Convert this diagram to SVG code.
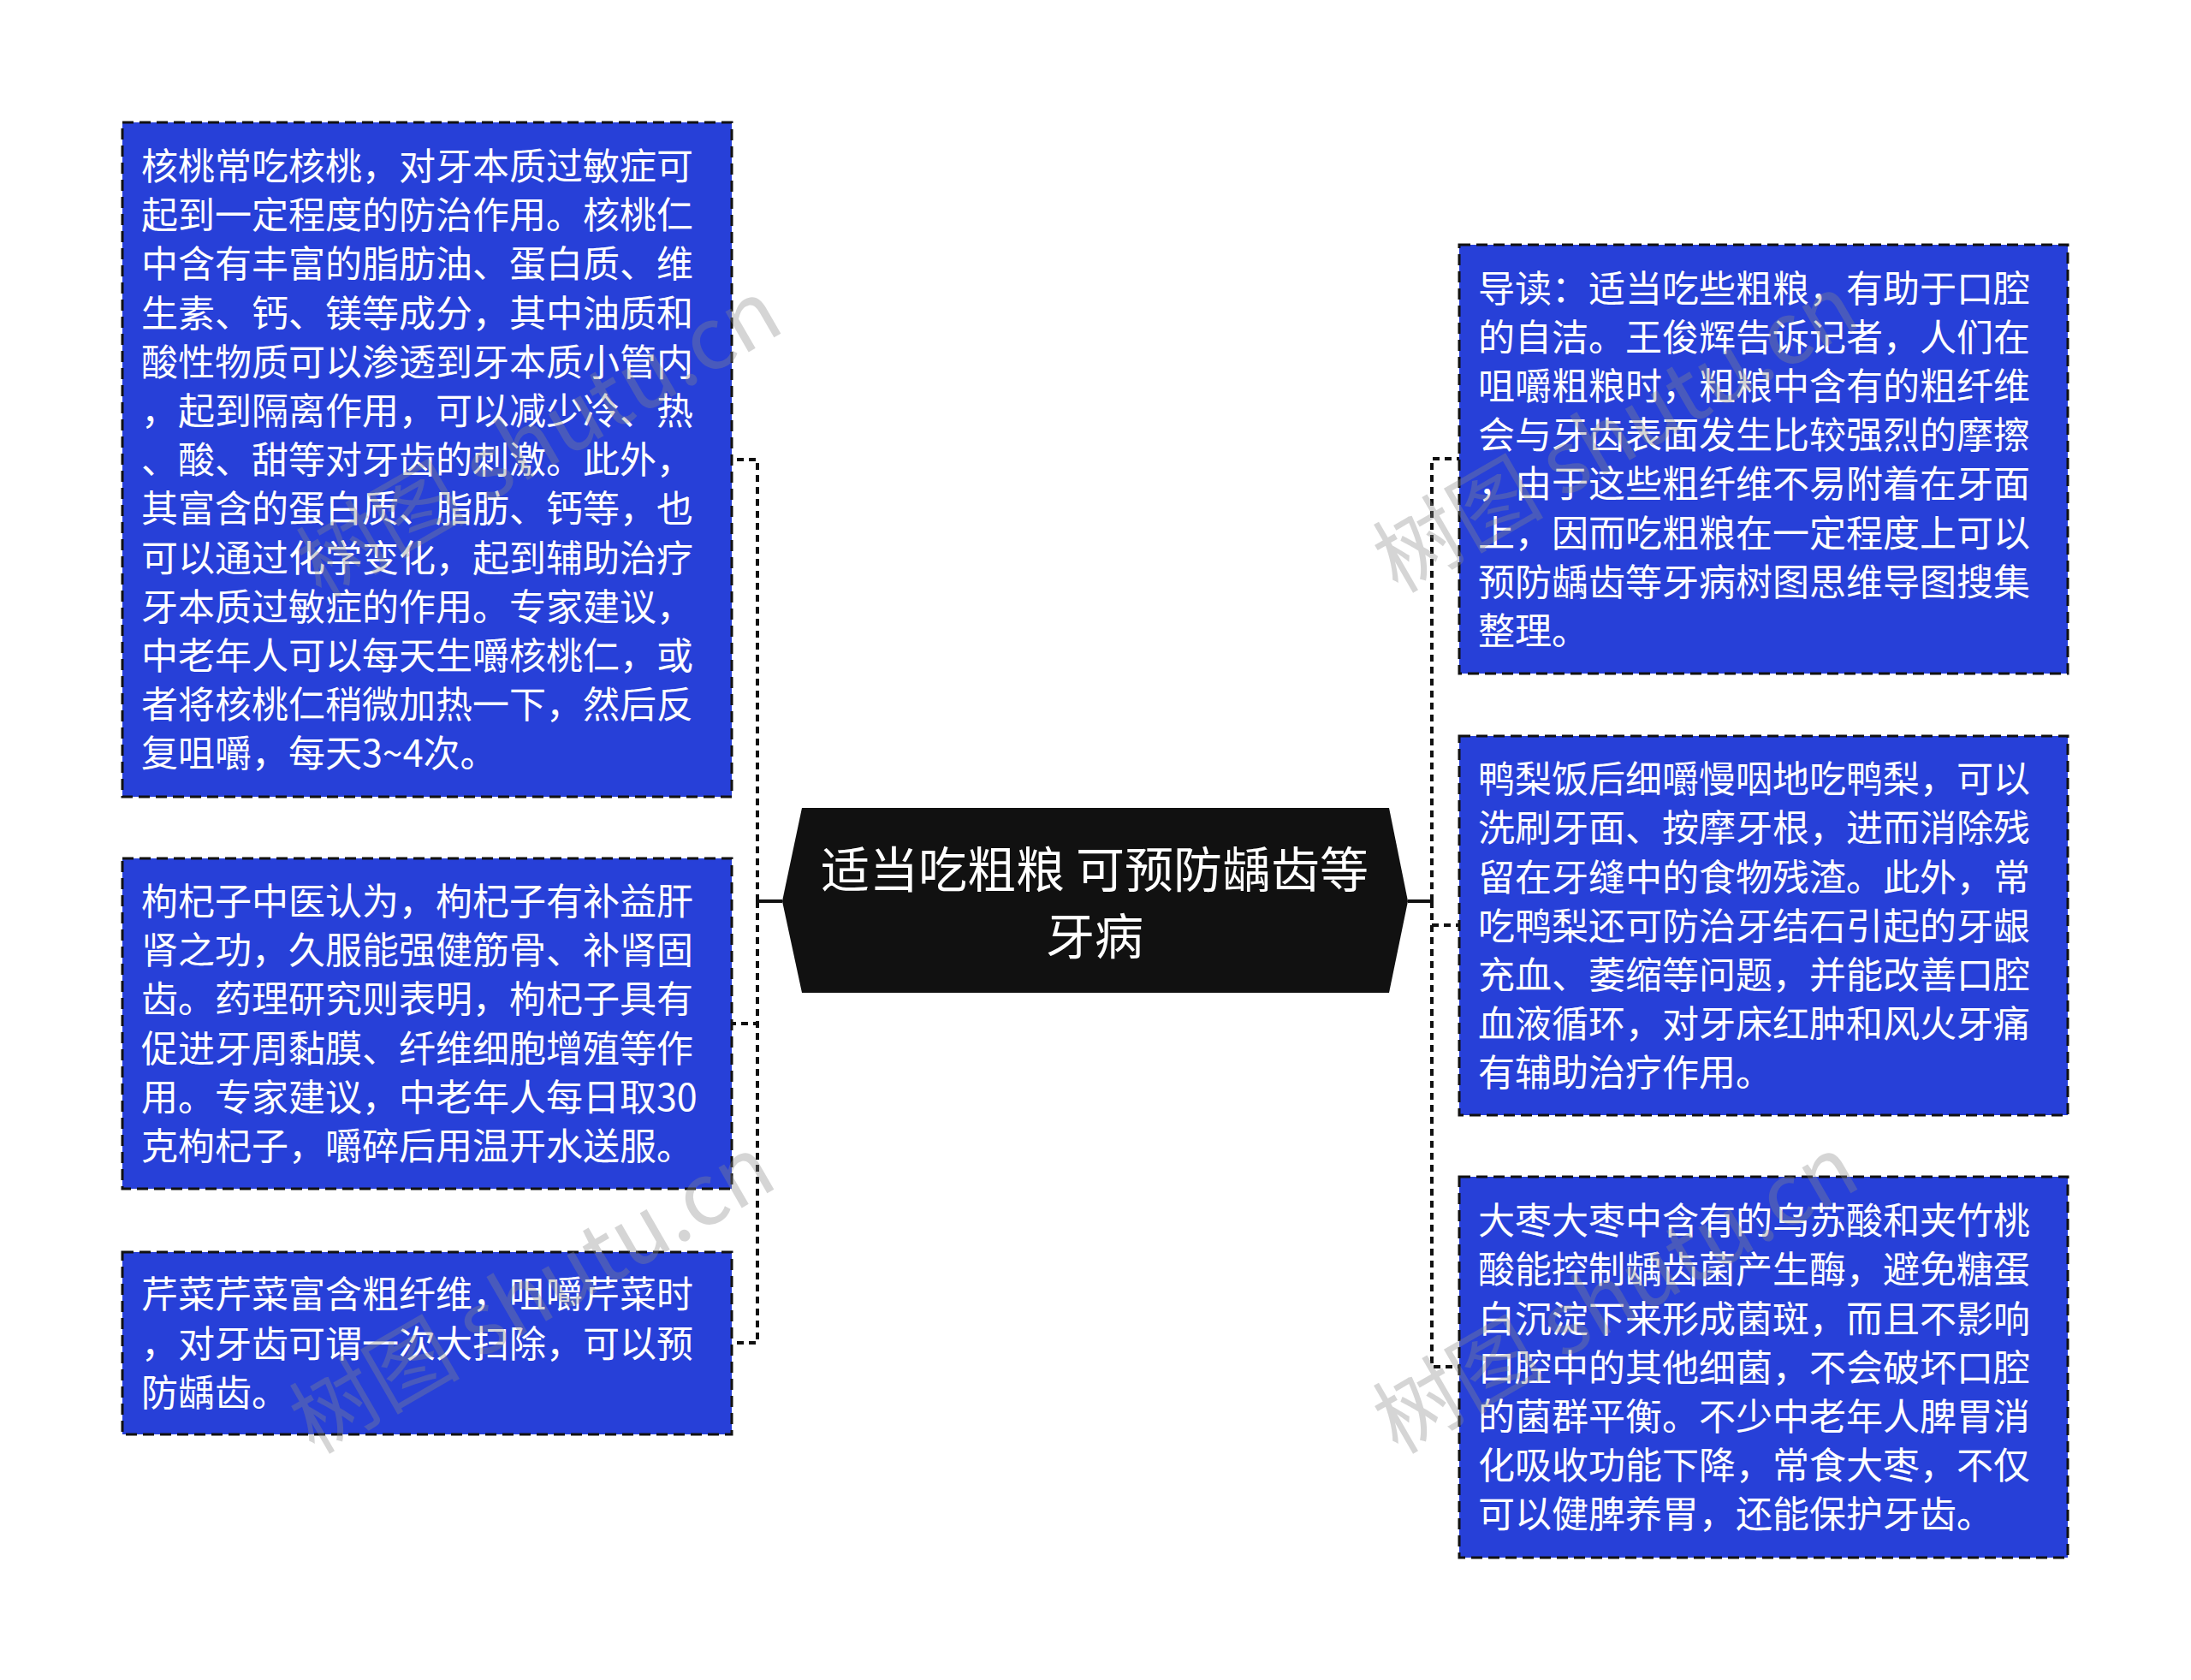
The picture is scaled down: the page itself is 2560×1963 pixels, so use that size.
<svg xmlns="http://www.w3.org/2000/svg" width="2560" height="1963" viewBox="0 0 2560 1963">
<style>
.box{fill:#2740d8;stroke:#111;stroke-width:3;stroke-dasharray:13 7}
.t{font-family:"Noto Sans CJK SC","Noto Sans",sans-serif;font-size:43px;fill:#fff}
.ct{font-family:"Noto Sans CJK SC","Noto Sans",sans-serif;font-size:57px;fill:#fff;text-anchor:middle}
.solid{fill:none;stroke:#111;stroke-width:4}
.dash{fill:none;stroke:#111;stroke-width:4;stroke-dasharray:8 6}
.wm{font-family:"Noto Sans CJK SC","Noto Sans",sans-serif;font-size:100px;fill:#8a8a8a;opacity:0.35}
</style>
<rect width="2560" height="1963" fill="#fff"/>
<g id="connectors">
<path class="solid" d="M914 1053H885"/>
<path class="dash" d="M885 1053V537H855"/>
<path class="dash" d="M885 1053V1196H855"/>
<path class="dash" d="M885 1053V1569H855"/>
<path class="solid" d="M1645 1053H1673"/>
<path class="dash" d="M1673 1053V536H1705"/>
<path class="dash" d="M1673 1053V1081H1705"/>
<path class="dash" d="M1673 1053V1597H1705"/>
</g>
<g id="center">
<polygon points="914,1053 937,944 1623,944 1645,1053 1623,1160 937,1160" fill="#111"/>
<text class="ct"><tspan x="1279" y="1037">适当吃粗粮 可预防龋齿等</tspan><tspan x="1279" y="1115">牙病</tspan></text>
</g>
<g id="node-hetao">
<rect class="box" x="143" y="143" width="712" height="788"/>
<text class="t">
<tspan x="165" y="210">核桃常吃核桃，对牙本质过敏症可</tspan>
<tspan x="165" y="267.2">起到一定程度的防治作用。核桃仁</tspan>
<tspan x="165" y="324.4">中含有丰富的脂肪油、蛋白质、维</tspan>
<tspan x="165" y="381.6">生素、钙、镁等成分，其中油质和</tspan>
<tspan x="165" y="438.8">酸性物质可以渗透到牙本质小管内</tspan>
<tspan x="165" y="496">，起到隔离作用，可以减少冷、热</tspan>
<tspan x="165" y="553.2">、酸、甜等对牙齿的刺激。此外，</tspan>
<tspan x="165" y="610.4">其富含的蛋白质、脂肪、钙等，也</tspan>
<tspan x="165" y="667.6">可以通过化学变化，起到辅助治疗</tspan>
<tspan x="165" y="724.8">牙本质过敏症的作用。专家建议，</tspan>
<tspan x="165" y="782">中老年人可以每天生嚼核桃仁，或</tspan>
<tspan x="165" y="839.2">者将核桃仁稍微加热一下，然后反</tspan>
<tspan x="165" y="896.4">复咀嚼，每天3~4次。</tspan>
</text>
</g>
<g id="node-gouqi">
<rect class="box" x="143" y="1003" width="712" height="386"/>
<text class="t">
<tspan x="165" y="1069">枸杞子中医认为，枸杞子有补益肝</tspan>
<tspan x="165" y="1126.2">肾之功，久服能强健筋骨、补肾固</tspan>
<tspan x="165" y="1183.4">齿。药理研究则表明，枸杞子具有</tspan>
<tspan x="165" y="1240.6">促进牙周黏膜、纤维细胞增殖等作</tspan>
<tspan x="165" y="1297.8">用。专家建议，中老年人每日取30</tspan>
<tspan x="165" y="1355">克枸杞子，嚼碎后用温开水送服。</tspan>
</text>
</g>
<g id="node-qincai">
<rect class="box" x="143" y="1463" width="712" height="213"/>
<text class="t">
<tspan x="165" y="1528.3">芹菜芹菜富含粗纤维，咀嚼芹菜时</tspan>
<tspan x="165" y="1585.5">，对牙齿可谓一次大扫除，可以预</tspan>
<tspan x="165" y="1642.7">防龋齿。</tspan>
</text>
</g>
<g id="node-daodu">
<rect class="box" x="1705" y="286" width="711" height="501"/>
<text class="t">
<tspan x="1727" y="352.5">导读：适当吃些粗粮，有助于口腔</tspan>
<tspan x="1727" y="409.7">的自洁。王俊辉告诉记者，人们在</tspan>
<tspan x="1727" y="466.9">咀嚼粗粮时，粗粮中含有的粗纤维</tspan>
<tspan x="1727" y="524.1">会与牙齿表面发生比较强烈的摩擦</tspan>
<tspan x="1727" y="581.3">，由于这些粗纤维不易附着在牙面</tspan>
<tspan x="1727" y="638.5">上，因而吃粗粮在一定程度上可以</tspan>
<tspan x="1727" y="695.7">预防龋齿等牙病树图思维导图搜集</tspan>
<tspan x="1727" y="752.9">整理。</tspan>
</text>
</g>
<g id="node-yali">
<rect class="box" x="1705" y="860" width="711" height="443"/>
<text class="t">
<tspan x="1727" y="926.2">鸭梨饭后细嚼慢咽地吃鸭梨，可以</tspan>
<tspan x="1727" y="983.4">洗刷牙面、按摩牙根，进而消除残</tspan>
<tspan x="1727" y="1040.6">留在牙缝中的食物残渣。此外，常</tspan>
<tspan x="1727" y="1097.8">吃鸭梨还可防治牙结石引起的牙龈</tspan>
<tspan x="1727" y="1155">充血、萎缩等问题，并能改善口腔</tspan>
<tspan x="1727" y="1212.2">血液循环，对牙床红肿和风火牙痛</tspan>
<tspan x="1727" y="1269.4">有辅助治疗作用。</tspan>
</text>
</g>
<g id="node-dazao">
<rect class="box" x="1705" y="1375" width="711" height="445"/>
<text class="t">
<tspan x="1727" y="1442.2">大枣大枣中含有的乌苏酸和夹竹桃</tspan>
<tspan x="1727" y="1499.4">酸能控制龋齿菌产生酶，避免糖蛋</tspan>
<tspan x="1727" y="1556.6">白沉淀下来形成菌斑，而且不影响</tspan>
<tspan x="1727" y="1613.8">口腔中的其他细菌，不会破坏口腔</tspan>
<tspan x="1727" y="1671">的菌群平衡。不少中老年人脾胃消</tspan>
<tspan x="1727" y="1728.2">化吸收功能下降，常食大枣，不仅</tspan>
<tspan x="1727" y="1785.4">可以健脾养胃，还能保护牙齿。</tspan>
</text>
</g>
<g id="watermarks">
<text class="wm" transform="translate(375,700) rotate(-30)">树图 shutu.cn</text>
<text class="wm" transform="translate(367,1700) rotate(-30)">树图 shutu.cn</text>
<text class="wm" transform="translate(1633,694) rotate(-30)">树图 shutu.cn</text>
<text class="wm" transform="translate(1633,1700) rotate(-30)">树图 shutu.cn</text>
</g>
</svg>
